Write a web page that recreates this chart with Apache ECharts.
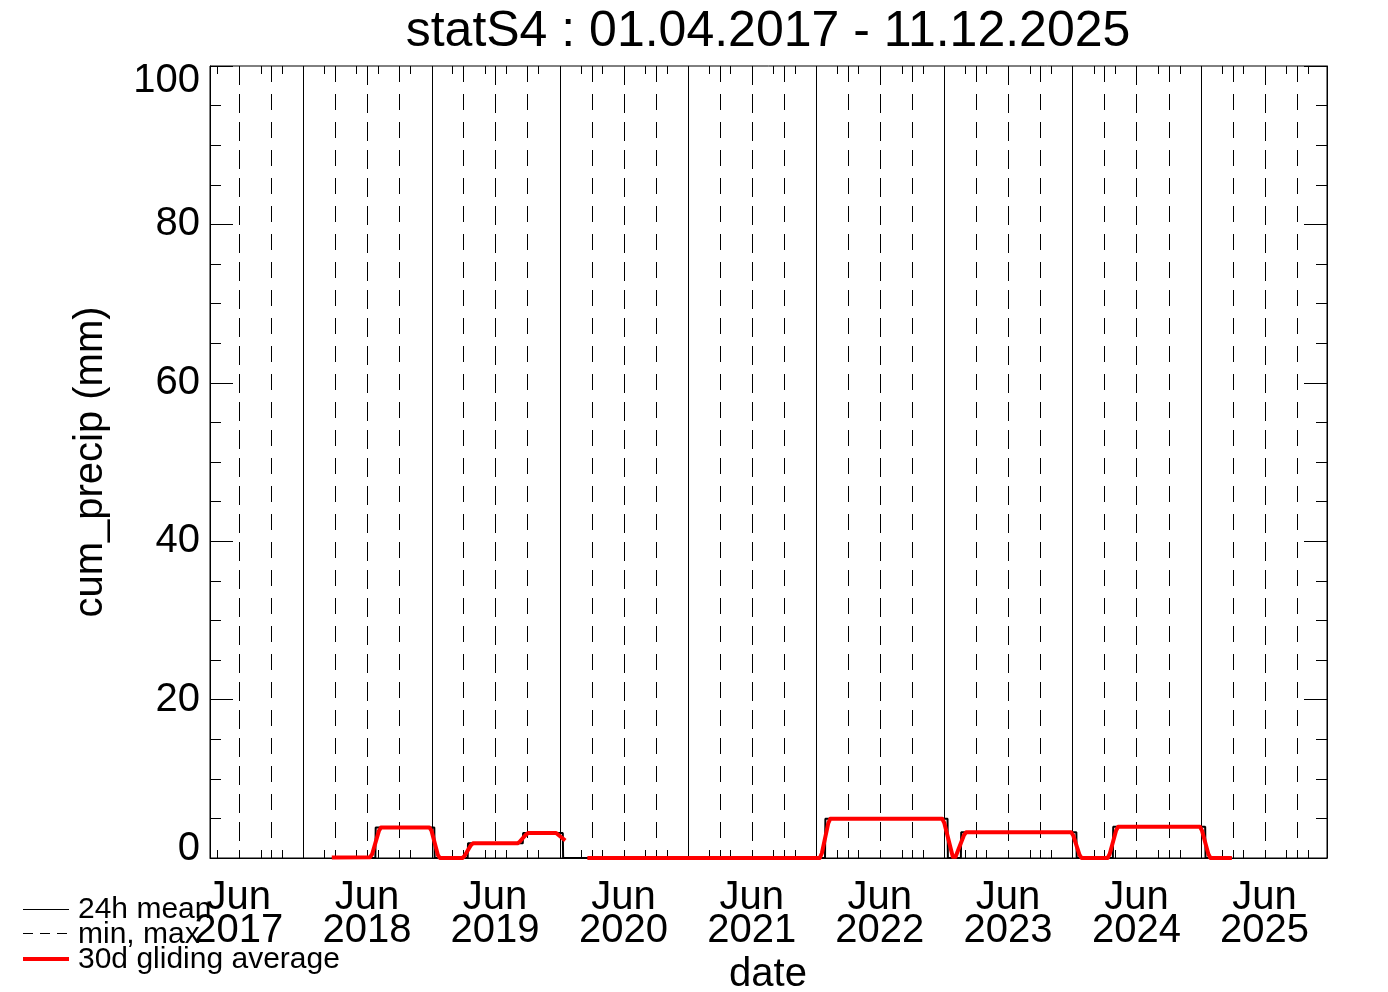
<!DOCTYPE html>
<html><head><meta charset="utf-8">
<script src="https://cdn.jsdelivr.net/npm/echarts@6/dist/echarts.min.js"></script>
<style>html,body{margin:0;padding:0;background:#fff}#c{width:1388px;height:992px}</style>
</head><body><div id="c"></div><script>
// ---- text ----
const titleText = 'statS4 : 01.04.2017 - 11.12.2025';
const yName = 'cum_precip (mm)';
const xName = 'date';
const legendLabels = ['24h mean', 'min, max', '30d gliding average'];

// ---- axes ----
const xMin = '2017-04-10';
const xMax = '2025-12-26';
const yMin = 0, yMax = 100, yStep = 20;

// ---- vertical grid lines / ticks / labels ----
const yearLines = ['2018-01-01','2019-01-01','2020-01-01','2021-01-01','2022-01-01','2023-01-01','2024-01-01','2025-01-01'];
const labelLines = ['2017-07-01','2018-07-01','2019-07-01','2020-07-01','2021-07-01','2022-07-01','2023-07-01','2024-07-01','2025-07-01'];
const quarterLines = ['2017-10-01','2018-04-01','2018-10-01','2019-04-01','2019-10-01','2020-04-01','2020-10-01','2021-04-01','2021-10-01','2022-04-01','2022-10-01','2023-04-01','2023-10-01','2024-04-01','2024-10-01','2025-04-01','2025-10-01'];
const minorTickDates = ['2017-05-01','2017-09-01','2017-11-01',
  '2018-03-01','2018-06-01','2018-08-01','2018-11-01',
  '2019-03-01','2019-06-01','2019-08-01','2019-11-01',
  '2020-03-01','2020-05-01','2020-09-01','2020-11-01',
  '2021-03-01','2021-05-01','2021-09-01','2021-11-01',
  '2022-03-01','2022-05-01','2022-09-01','2022-11-01',
  '2023-03-01','2023-05-01','2023-09-01','2023-11-01',
  '2024-03-01','2024-05-01','2024-09-01','2024-11-01',
  '2025-03-01','2025-05-01','2025-09-01','2025-11-01'];
const labelMonth = 'Jun';
const labelYears = ['2017','2018','2019','2020','2021','2022','2023','2024','2025'];

// ---- data: 24h mean (black) ----
const meanDates = ['2018-03-23','2018-07-25','2018-07-26','2019-01-09','2019-01-10','2019-04-14','2019-04-15','2019-09-18','2019-09-19','2020-01-10','2020-01-11',
  '2022-01-26','2022-01-27','2023-01-10','2023-01-11','2023-02-17','2023-02-18','2024-01-12','2024-01-13','2024-04-25','2024-04-26','2025-01-13','2025-01-14','2025-03-30'];
const meanValues = [0,0,3.85,3.85,0,0,1.85,1.85,3.15,3.15,0,
  0,4.95,4.95,0,0,3.25,3.25,0,0,3.95,3.95,0,0];

// ---- data: 30d gliding average (red) ----
const avgDates = ['2018-03-23','2018-07-10','2018-07-16','2018-08-04','2018-08-10','2018-12-26','2019-01-01','2019-01-19','2019-01-25',
  '2019-03-30','2019-04-05','2019-04-23','2019-04-29','2019-09-03','2019-09-09','2019-09-27','2019-10-03','2019-12-22','2020-01-17',
  '2020-02-15',
  '2020-03-20','2021-12-20','2022-01-11','2022-01-17','2022-02-04','2022-02-10','2022-12-26','2023-01-01','2023-01-25','2023-02-02','2023-02-26','2023-03-04',
  '2023-12-28','2024-01-03','2024-01-21','2024-01-27','2024-04-10','2024-04-16','2024-05-04','2024-05-10','2024-12-29','2025-01-04','2025-01-22','2025-01-28','2025-03-30'];
const avgValues = [0.05,0.1,0.5,3.4,3.85,3.85,3.45,0.4,0,
  0,0.25,1.6,1.85,1.85,2.05,2.95,3.15,3.15,2.2,
  null,
  0,0,0,0.6,4.35,4.95,4.95,4.4,0.15,0.15,2.9,3.25,
  3.25,2.85,0.4,0,0,0.5,3.45,3.95,3.95,3.45,0.5,0,0];

// ---- helpers ----
const ts = s => { const p = s.split('-').map(Number); return Date.UTC(p[0], p[1]-1, p[2]); };
const FONT = "'Liberation Sans', Arial, Helvetica, sans-serif";
const zip = (d, v) => d.map((x, i) => [ts(x), v[i]]);

const gridData = [].concat(
  yearLines.map(d => [ts(d), 0]),
  labelLines.map(d => [ts(d), 1]),
  quarterLines.map(d => [ts(d), 2])
);

const chart = echarts.init(document.getElementById('c'), null, {renderer: 'canvas'});
chart.setOption({
  backgroundColor: '#fff',
  animation: false,
  grid: {left: 210, top: 66, width: 1117, height: 792, show: true, borderColor: '#000', borderWidth: 1, backgroundColor: 'transparent', containLabel: false, outerBoundsMode: 'none'},
  xAxis: {
    type: 'time', min: ts(xMin), max: ts(xMax),
    axisLine: {show: true, lineStyle: {color: '#000', width: 1}},
    axisTick: {show: false}, axisLabel: {show: false}, splitLine: {show: false}, minorTick: {show: false}
  },
  yAxis: [
    {type: 'value', min: yMin, max: yMax, interval: yStep, position: 'left',
     axisLine: {show: true, lineStyle: {color: '#000', width: 1}},
     axisTick: {show: true, inside: true, length: 23, lineStyle: {color: '#000', width: 1}},
     minorTick: {show: true, splitNumber: 4, length: 11, lineStyle: {color: '#000', width: 1}},
     splitLine: {show: false}, minorSplitLine: {show: false},
     axisLabel: {fontSize: 40, color: '#000', fontFamily: FONT, margin: 10, lineHeight: 19, padding: [5, 0, 0, 0],
       verticalAlignMinLabel: 'bottom', verticalAlignMaxLabel: 'top'}},
    {type: 'value', min: yMin, max: yMax, interval: yStep, position: 'right',
     axisLine: {show: true, lineStyle: {color: '#000', width: 1}},
     axisTick: {show: true, inside: true, length: 23, lineStyle: {color: '#000', width: 1}},
     minorTick: {show: true, splitNumber: 4, length: 11, lineStyle: {color: '#000', width: 1}},
     splitLine: {show: false}, axisLabel: {show: false}}
  ],
  series: [
    { // vertical grid lines
      type: 'custom', clip: false, silent: true, z: 1,
      data: gridData,
      renderItem(params, api) {
        const t = api.value(0), k = api.value(1);
        const top = api.coord([t, yMax]), bot = api.coord([t, yMin]);
        const x = Math.round(top[0]) + 0.5;
        return {type: 'line', shape: {x1: x, y1: top[1], x2: x, y2: bot[1]},
          style: {stroke: '#000', lineWidth: 1, lineDash: k === 0 ? null : (k === 1 ? [19, 9] : [16, 12])}};
      }
    },
    { // minor ticks top and bottom
      type: 'custom', clip: false, silent: true, z: 1,
      data: minorTickDates.map(d => [ts(d), 0]),
      renderItem(params, api) {
        const t = api.value(0);
        const top = api.coord([t, yMax]), bot = api.coord([t, yMin]);
        const x = Math.round(top[0]) + 0.5;
        return {type: 'group', children: [
          {type: 'line', shape: {x1: x, y1: top[1], x2: x, y2: top[1] + 8}, style: {stroke: '#000', lineWidth: 1}},
          {type: 'line', shape: {x1: x, y1: bot[1], x2: x, y2: bot[1] - 8}, style: {stroke: '#000', lineWidth: 1}}
        ]};
      }
    },
    { // x tick labels
      type: 'custom', clip: false, silent: true, z: 5,
      data: labelLines.map((d, i) => [ts(d), i]),
      renderItem(params, api) {
        const t = api.value(0), i = api.value(1);
        const bot = api.coord([t, yMin]);
        return {type: 'group', children: [
          {type: 'text', x: bot[0], y: bot[1] + 40, style: {text: labelMonth, fontSize: 40, fontFamily: FONT, fill: '#000', align: 'center', verticalAlign: 'middle'}},
          {type: 'text', x: bot[0], y: bot[1] + 73, style: {text: labelYears[i], fontSize: 40, fontFamily: FONT, fill: '#000', align: 'center', verticalAlign: 'middle'}}
        ]};
      }
    },
    {name: legendLabels[0], type: 'line', data: zip(meanDates, meanValues), symbol: 'none', z: 3,
     lineStyle: {color: '#000', width: 2}, itemStyle: {color: '#000'}},
    {name: legendLabels[2], type: 'line', data: zip(avgDates, avgValues), symbol: 'none', z: 4, connectNulls: false,
     lineStyle: {color: '#ff0000', width: 4, join: 'round'}, itemStyle: {color: '#ff0000'}}
  ],
  graphic: [
    {type: 'text', x: 768, y: 32, style: {text: titleText, fontSize: 50, fontFamily: FONT, fill: '#000', align: 'center', verticalAlign: 'middle'}},
    {type: 'text', x: 91, y: 462, rotation: Math.PI / 2, style: {text: yName, fontSize: 40, fontFamily: FONT, fill: '#000', align: 'center', verticalAlign: 'middle'}},
    {type: 'text', x: 768, y: 975, style: {text: xName, fontSize: 40, fontFamily: FONT, fill: '#000', align: 'center', verticalAlign: 'middle'}},
    {type: 'line', shape: {x1: 23, y1: 909.5, x2: 69, y2: 909.5}, style: {stroke: '#000', lineWidth: 1}},
    {type: 'line', shape: {x1: 23, y1: 933.5, x2: 69, y2: 933.5}, style: {stroke: '#000', lineWidth: 1, lineDash: [10, 7]}},
    {type: 'line', shape: {x1: 23, y1: 959, x2: 69, y2: 959}, style: {stroke: '#ff0000', lineWidth: 4}},
    {type: 'text', x: 78, y: 910, style: {text: legendLabels[0], fontSize: 30, fontFamily: FONT, fill: '#000', align: 'left', verticalAlign: 'middle'}},
    {type: 'text', x: 78, y: 935, style: {text: legendLabels[1], fontSize: 30, fontFamily: FONT, fill: '#000', align: 'left', verticalAlign: 'middle'}},
    {type: 'text', x: 78, y: 960, style: {text: legendLabels[2], fontSize: 30, fontFamily: FONT, fill: '#000', align: 'left', verticalAlign: 'middle'}}
  ]
});
</script></body></html>
